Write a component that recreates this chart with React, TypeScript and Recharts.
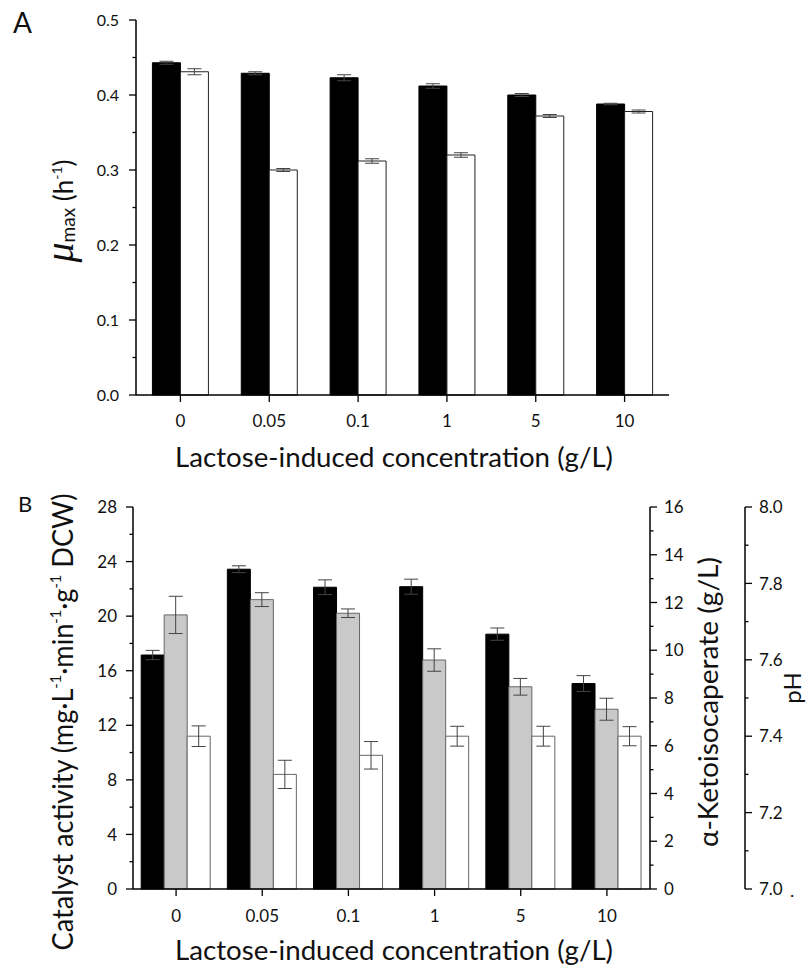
import React from 'react';
import { BarChart, Bar, XAxis, YAxis, ErrorBar } from 'recharts';

const FONT = 'Lato, "Open Sans", sans-serif';
const INK = '#111';

const categories = ['0', '0.05', '0.1', '1', '5', '10'];

// panel A: mu max (h-1)
const muFirst = [0.443, 0.429, 0.423, 0.412, 0.4, 0.388];
const muFirstErr = [0.002, 0.002, 0.004, 0.003, 0.002, 0.001];
const muSecond = [0.431, 0.3, 0.312, 0.32, 0.372, 0.378];
const muSecondErr = [0.004, 0.002, 0.003, 0.003, 0.002, 0.002];
const muTicks = [0, 0.05, 0.1, 0.15, 0.2, 0.25, 0.3, 0.35, 0.4, 0.45, 0.5];

// panel B: catalyst activity, keto acid titre, pH
const activity = [17.15, 23.44, 22.12, 22.16, 18.68, 15.06];
const activityErr = [0.34, 0.25, 0.54, 0.55, 0.45, 0.58];
const keto = [11.48, 12.12, 11.55, 9.59, 8.47, 7.53];
const ketoErr = [0.78, 0.29, 0.18, 0.47, 0.35, 0.46];
const ph = [7.4, 7.3, 7.35, 7.4, 7.4, 7.4];
const phErr = [0.027, 0.037, 0.036, 0.026, 0.026, 0.025];
const activityTicks = [0, 2, 4, 6, 8, 10, 12, 14, 16, 18, 20, 22, 24, 26, 28];
const ketoTicks = [0, 1, 2, 3, 4, 5, 6, 7, 8, 9, 10, 11, 12, 13, 14, 15, 16];
const phTicks = [7.0, 7.1, 7.2, 7.3, 7.4, 7.5, 7.6, 7.7, 7.8, 7.9, 8.0];

const dataA = categories.map((name, i) => ({
  name,
  a: muFirst[i],
  aErr: muFirstErr[i],
  b: muSecond[i],
  bErr: muSecondErr[i],
}));

const dataB = categories.map((name, i) => ({
  name,
  act: activity[i],
  actErr: activityErr[i],
  keto: keto[i],
  ketoErr: ketoErr[i],
  ph: ph[i],
  phErr: phErr[i],
}));

// y ticks with short minor marks; x is the axis line because tickSize/tickMargin are 0
const makeTick = (
  side: 'left' | 'right',
  isMajor: (v: number) => boolean,
  fmt: (v: number) => string,
  fontSize: number,
  gap: number,
) => (props: any) => {
  const { x, y, payload } = props;
  const v = payload.value;
  const major = isMajor(v);
  const dir = side === 'left' ? -1 : 1;
  return (
    <g>
      <line x1={x} x2={x + dir * (major ? 7 : 3.5)} y1={y} y2={y} stroke="#000" strokeWidth={1.3} />
      {major && (
        <text
          x={x + dir * (7 + gap)}
          y={y}
          dy="0.36em"
          textAnchor={side === 'left' ? 'end' : 'start'}
          fontSize={fontSize}
          fontFamily={FONT}
          fill={INK}
        >
          {fmt(v)}
        </text>
      )}
    </g>
  );
};

const tickMu = makeTick('left', (v) => Math.round(v * 100) % 10 === 0, (v) => v.toFixed(1), 16, 10);
const tickAct = makeTick('left', (v) => v % 4 === 0, (v) => String(v), 17, 9);
const tickKeto = makeTick('right', (v) => v % 2 === 0, (v) => String(v), 17, 7);
const tickPh = makeTick('right', (v) => Math.round(v * 10) % 2 === 0, (v) => v.toFixed(1), 17, 7);

const TitlesA = () => (
  <g fontFamily={FONT} fill={INK}>
    <text x={13} y={33} fontSize={28}>A</text>
    <text transform="translate(73,211) rotate(-90)" textAnchor="middle">
      <tspan fontFamily='"Liberation Serif", serif' fontStyle="italic" fontSize={40}>μ</tspan>
      <tspan fontSize={19} dy={2}>max</tspan>
      <tspan fontSize={26} dy={-2}> (h</tspan>
      <tspan fontSize={14} dy={-11}>-1</tspan>
      <tspan fontSize={26} dy={11}>)</tspan>
    </text>
    <text x={394} y={467} textAnchor="middle" fontSize={26} textLength={438} lengthAdjust="spacingAndGlyphs">
      Lactose-induced concentration (g/L)
    </text>
  </g>
);

const TitlesB = () => (
  <g fontFamily={FONT} fill={INK}>
    <text x={18} y={52} fontSize={22}>B</text>
    <text
      transform="translate(73,262) rotate(-90)"
      textAnchor="middle"
      fontSize={28}
      textLength={457}
      lengthAdjust="spacingAndGlyphs"
    >
      Catalyst activity (mg·L
      <tspan fontSize={15} dy={-12}>-1</tspan>
      <tspan dy={12}>·min</tspan>
      <tspan fontSize={15} dy={-12}>-1</tspan>
      <tspan dy={12}>·g</tspan>
      <tspan fontSize={15} dy={-12}>-1</tspan>
      <tspan dy={12}> DCW)</tspan>
    </text>
    <text
      transform="translate(718,242) rotate(-90)"
      textAnchor="middle"
      fontSize={26}
      textLength={290}
      lengthAdjust="spacingAndGlyphs"
    >
      α-Ketoisocaperate (g/L)
    </text>
    <text transform="translate(801,228) rotate(-90)" textAnchor="middle" fontSize={24}>pH</text>
    <text x={790} y={437} fontSize={18}>.</text>
    <text x={394} y={500} textAnchor="middle" fontSize={26} textLength={438} lengthAdjust="spacingAndGlyphs">
      Lactose-induced concentration (g/L)
    </text>
  </g>
);

export default function App() {
  return (
    <div style={{ position: 'absolute', left: 0, top: 0, width: 808, height: 967, background: '#fff' }}>
      <div style={{ position: 'absolute', left: 0, top: 0 }}>
        <BarChart
          width={808}
          height={480}
          data={dataA}
          margin={{ top: 20, right: 139, bottom: 0, left: 76 }}
          barCategoryGap="18.5%"
          barGap={0}
        >
          <XAxis
            dataKey="name"
            height={85}
            tickSize={7}
            tickMargin={13}
            axisLine={{ stroke: '#000', strokeWidth: 1.5 }}
            tickLine={{ stroke: '#000', strokeWidth: 1.3 }}
            tick={{ fontSize: 17, fontFamily: FONT, fill: INK }}
            label={<TitlesA />}
          />
          <YAxis
            width={60}
            domain={[0, 0.5]}
            ticks={muTicks}
            interval={0}
            tickSize={0}
            tickMargin={0}
            tickLine={false}
            axisLine={{ stroke: '#000', strokeWidth: 1.5 }}
            tick={tickMu}
          />
          <Bar dataKey="a" fill="#000" stroke="#000" strokeWidth={1} isAnimationActive={false}>
            <ErrorBar dataKey="aErr" width={7} stroke="#444" strokeWidth={1} direction="y" />
          </Bar>
          <Bar dataKey="b" fill="#fff" stroke="#222" strokeWidth={1} isAnimationActive={false}>
            <ErrorBar dataKey="bErr" width={7} stroke="#444" strokeWidth={1} direction="y" />
          </Bar>
        </BarChart>
      </div>
      <div style={{ position: 'absolute', left: 0, top: 460 }}>
        <BarChart
          width={808}
          height={507}
          data={dataB}
          margin={{ top: 47, right: 0, bottom: 0, left: 73 }}
          barCategoryGap="9.5%"
          barGap={0}
        >
          <XAxis
            dataKey="name"
            height={78}
            tickSize={7}
            tickMargin={14}
            axisLine={{ stroke: '#000', strokeWidth: 1.5 }}
            tickLine={{ stroke: '#000', strokeWidth: 1.3 }}
            tick={{ fontSize: 17, fontFamily: FONT, fill: INK }}
            label={<TitlesB />}
          />
          <YAxis
            yAxisId="act"
            width={60}
            domain={[0, 28]}
            ticks={activityTicks}
            interval={0}
            tickSize={0}
            tickMargin={0}
            tickLine={false}
            axisLine={{ stroke: '#000', strokeWidth: 1.5 }}
            tick={tickAct}
          />
          <YAxis
            yAxisId="keto"
            orientation="right"
            width={95}
            domain={[0, 16]}
            ticks={ketoTicks}
            interval={0}
            tickSize={0}
            tickMargin={0}
            tickLine={false}
            axisLine={{ stroke: '#000', strokeWidth: 1.5 }}
            tick={tickKeto}
          />
          <YAxis
            yAxisId="ph"
            orientation="right"
            width={63}
            domain={[7, 8]}
            ticks={phTicks}
            interval={0}
            tickSize={0}
            tickMargin={0}
            tickLine={false}
            axisLine={{ stroke: '#000', strokeWidth: 1.5 }}
            tick={tickPh}
          />
          <Bar yAxisId="act" dataKey="act" fill="#000" stroke="#000" strokeWidth={1} isAnimationActive={false}>
            <ErrorBar dataKey="actErr" width={7} stroke="#444" strokeWidth={1} direction="y" />
          </Bar>
          <Bar yAxisId="keto" dataKey="keto" fill="#c9c9c9" stroke="#666" strokeWidth={1} isAnimationActive={false}>
            <ErrorBar dataKey="ketoErr" width={7} stroke="#444" strokeWidth={1} direction="y" />
          </Bar>
          <Bar yAxisId="ph" dataKey="ph" fill="#fff" stroke="#666" strokeWidth={1} isAnimationActive={false}>
            <ErrorBar dataKey="phErr" width={7} stroke="#444" strokeWidth={1} direction="y" />
          </Bar>
        </BarChart>
      </div>
    </div>
  );
}
